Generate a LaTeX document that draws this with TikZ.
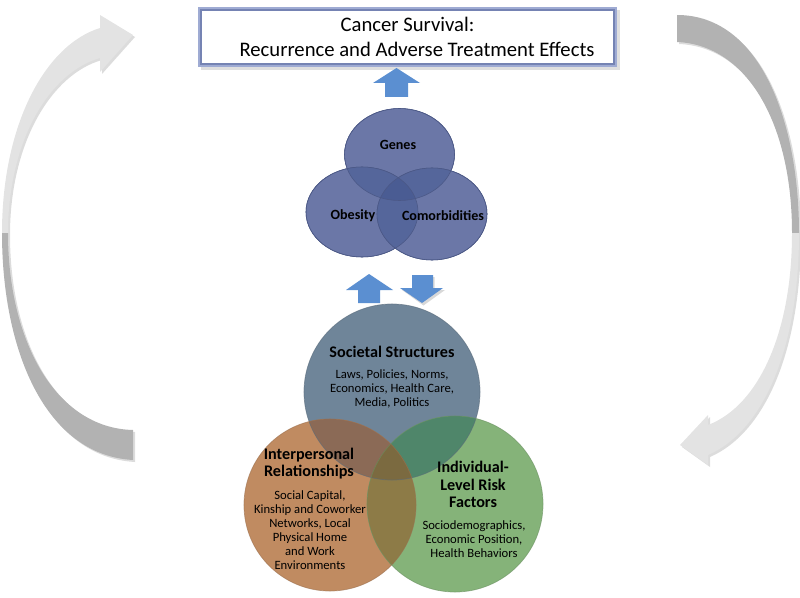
\documentclass[tikz,border=0pt]{standalone}
\usepackage{fontspec}
\setmainfont{Carlito}
\usetikzlibrary{shapes.geometric}
\definecolor{titleblue}{HTML}{7583B3}
\definecolor{titleinner}{HTML}{9FABD3}
\definecolor{arrowblue}{HTML}{5B8FD1}
\definecolor{trio}{HTML}{6B77A7}
\definecolor{triotwo}{HTML}{55669B}
\definecolor{triothree}{HTML}{4A5C93}
\definecolor{trioedge}{HTML}{4B5886}
\definecolor{soccol}{HTML}{6F8599}
\definecolor{intercol}{HTML}{C08B61}
\definecolor{indcol}{HTML}{85B379}
\definecolor{socinter}{HTML}{8B6A56}
\definecolor{socind}{HTML}{4F866A}
\definecolor{interind}{HTML}{8D7B47}
\definecolor{allthree}{HTML}{7B6A40}
\definecolor{lightgray}{HTML}{E3E3E3}
\definecolor{darkgray}{HTML}{B2B2B2}
\tikzset{
  venn/.style={circle, inner sep=0pt, minimum size=#1},
  trioell/.style={ellipse, inner sep=0pt, fill=trio, draw=trioedge, line width=0.4pt},
  blockarrow/.style={fill=arrowblue},
  bandshadow/.style={fill=gray!60, fill opacity=0.45},
  head/.style={font=\fontsize{11.5}{12.3}\selectfont\bfseries, align=center, inner sep=0pt},
  body/.style={font=\fontsize{9}{10}\selectfont, align=center, inner sep=0pt},
  triolabel/.style={font=\fontsize{10}{12}\selectfont\bfseries, inner sep=0pt}
}
\begin{document}
\begin{tikzpicture}[x=0.025cm,y=-0.025cm]
\useasboundingbox (0,0) rectangle (800,597);

% ---- side arrows: shadows
\begin{scope}[shift={(2,2)}]
\fill[bandshadow] (133,460) .. controls (45,455) and (2,350) .. (2,233) .. controls (2,125) and (45,45) .. (100,28) -- (100,15) -- (133,35) -- (100,72) -- (100,58) .. controls (50,72) and (8,140) .. (8,233) .. controls (8,340) and (55,428) .. (133,430) -- cycle;
\fill[bandshadow] (677,15) .. controls (762,15) and (799,125) .. (799,233) .. controls (799,345) and (765,430) .. (708,455) -- (708,465) -- (680,445) -- (708,415) -- (708,425) .. controls (760,405) and (792,330) .. (792,233) .. controls (792,125) and (748,45) .. (677,42) -- cycle;
\end{scope}
% left arrow
\coordinate (lmid) at (2,233);
\fill[lightgray] (lmid) .. controls (2,125) and (45,45) .. (100,28) -- (100,15) -- (133,35) -- (100,72) -- (100,58) .. controls (50,72) and (8,140) .. (8,233) -- cycle;
\fill[darkgray] (133,460) .. controls (45,455) and (2,350) .. (lmid) -- (8,233) .. controls (8,340) and (55,428) .. (133,430) -- cycle;
% right arrow
\coordinate (rmid) at (799,233);
\fill[darkgray] (677,15) .. controls (762,15) and (799,125) .. (rmid) -- (792,233) .. controls (792,125) and (748,45) .. (677,42) -- cycle;
\fill[lightgray] (rmid) .. controls (799,345) and (765,430) .. (708,455) -- (708,465) -- (680,445) -- (708,415) -- (708,425) .. controls (760,405) and (792,330) .. (792,233) -- cycle;

% ---- title box
\fill[gray!50, opacity=0.5] (201,10) rectangle (620,70);
\node[draw=titleblue, line width=0.1cm, fill=white, minimum width=10.375cm, minimum height=1.4cm, inner sep=0pt,
      align=center, font=\fontsize{14.7}{18.3}\selectfont] (title) at (407.5,37)
  {Cancer Survival:\\\hspace*{13.5pt}Recurrence and Adverse Treatment Effects};
\draw[titleinner, line width=0.05cm] ([shift={(1,-1)}]title.south west) rectangle ([shift={(-1,1)}]title.north east);

% ---- trio of ellipses
\node[trioell, minimum width=2.75cm, minimum height=2.3cm] (genes) at (399.5,154.5) {};
\node[trioell, minimum width=2.8cm, minimum height=2.25cm] (obesity) at (362,212) {};
\node[trioell, minimum width=2.75cm, minimum height=2.3cm] (comorb) at (432,214) {};
\begin{scope}
\clip (genes.center) ellipse[x radius=1.375cm, y radius=1.15cm];
\fill[triotwo] (obesity.center) ellipse[x radius=1.4cm, y radius=1.125cm];
\fill[triotwo] (comorb.center) ellipse[x radius=1.375cm, y radius=1.15cm];
\end{scope}
\begin{scope}
\clip (obesity.center) ellipse[x radius=1.4cm, y radius=1.125cm];
\fill[triotwo] (comorb.center) ellipse[x radius=1.375cm, y radius=1.15cm];
\clip (comorb.center) ellipse[x radius=1.375cm, y radius=1.15cm];
\fill[triothree] (genes.center) ellipse[x radius=1.375cm, y radius=1.15cm];
\end{scope}
\draw[trioedge, line width=0.4pt] (genes.center) ellipse[x radius=1.375cm, y radius=1.15cm];
\draw[trioedge, line width=0.4pt] (obesity.center) ellipse[x radius=1.4cm, y radius=1.125cm];
\draw[trioedge, line width=0.4pt] (comorb.center) ellipse[x radius=1.375cm, y radius=1.15cm];
\node[triolabel] (genesT) at (398,145) {Genes};
\node[triolabel] (obesityT) at (353,216) {Obesity};
\node[triolabel] (comorbT) at (443,216) {Comorbidities};

% ---- block arrows
\fill[blockarrow] (396.5,68) -- (420,83) -- (408,83) -- (408,97) -- (385,97) -- (385,83) -- (373,83) -- cycle;
\fill[blockarrow] (369,274) -- (393,290) -- (380,290) -- (380,303) -- (358,303) -- (358,290) -- (346,290) -- cycle;
\fill[gray!60, opacity=0.5] (413.5,277) -- (434.5,277) -- (434.5,290) -- (445,290) -- (423.5,305.5) -- (402,290) -- (413.5,290) -- cycle;
\fill[blockarrow] (412,275) -- (433,275) -- (433,288) -- (443,288) -- (422,303) -- (400,288) -- (412,288) -- cycle;

% ---- big Venn circles
\node[venn=4.4cm, fill=soccol] (soc) at (392,392) {};
\node[venn=4.3cm, fill=intercol] (inter) at (330,505) {};
\node[venn=4.4cm, fill=indcol] (ind) at (455,504) {};
\begin{scope}
\clip (soc.center) circle[radius=2.2cm];
\fill[socinter] (inter.center) circle[radius=2.15cm];
\fill[socind] (ind.center) circle[radius=2.2cm];
\clip (inter.center) circle[radius=2.15cm];
\fill[allthree] (ind.center) circle[radius=2.2cm];
\end{scope}
\begin{scope}
\clip (inter.center) circle[radius=2.15cm];
\clip (ind.center) circle[radius=2.2cm];
\fill[interind] (ind.center) circle[radius=2.2cm];
\clip (soc.center) circle[radius=2.2cm];
\fill[allthree] (soc.center) circle[radius=2.2cm];
\end{scope}
\draw[soccol!80!black, line width=0.5pt, opacity=0.6] (soc.center) circle[radius=2.2cm];
\draw[intercol!80!black, line width=0.5pt, opacity=0.6] (inter.center) circle[radius=2.15cm];
\draw[indcol!80!black, line width=0.5pt, opacity=0.6] (ind.center) circle[radius=2.2cm];

% ---- texts
\node[head] (socT) at (392,352) {Societal Structures};
\node[body, font=\fontsize{9}{9.7}\selectfont] (socB) at (392,389) {Laws, Policies, Norms,\\Economics, Health Care,\\Media, Politics};
\node[head, font=\fontsize{11.5}{12}\selectfont\bfseries] (interT) at (309,463.5) {Interpersonal\\Relationships};
\node[body] (interB) at (310,530) {Social Capital,\\Kinship and Coworker\\Networks, Local\\Physical Home\\and Work\\Environments};
\node[head, font=\fontsize{11.5}{12.5}\selectfont\bfseries] (indT) at (473,484.5) {Individual-\\Level Risk\\Factors};
\node[body, font=\fontsize{9}{10.2}\selectfont] (indB) at (474,539) {Sociodemographics,\\Economic Position,\\Health Behaviors};
\end{tikzpicture}
\end{document}
